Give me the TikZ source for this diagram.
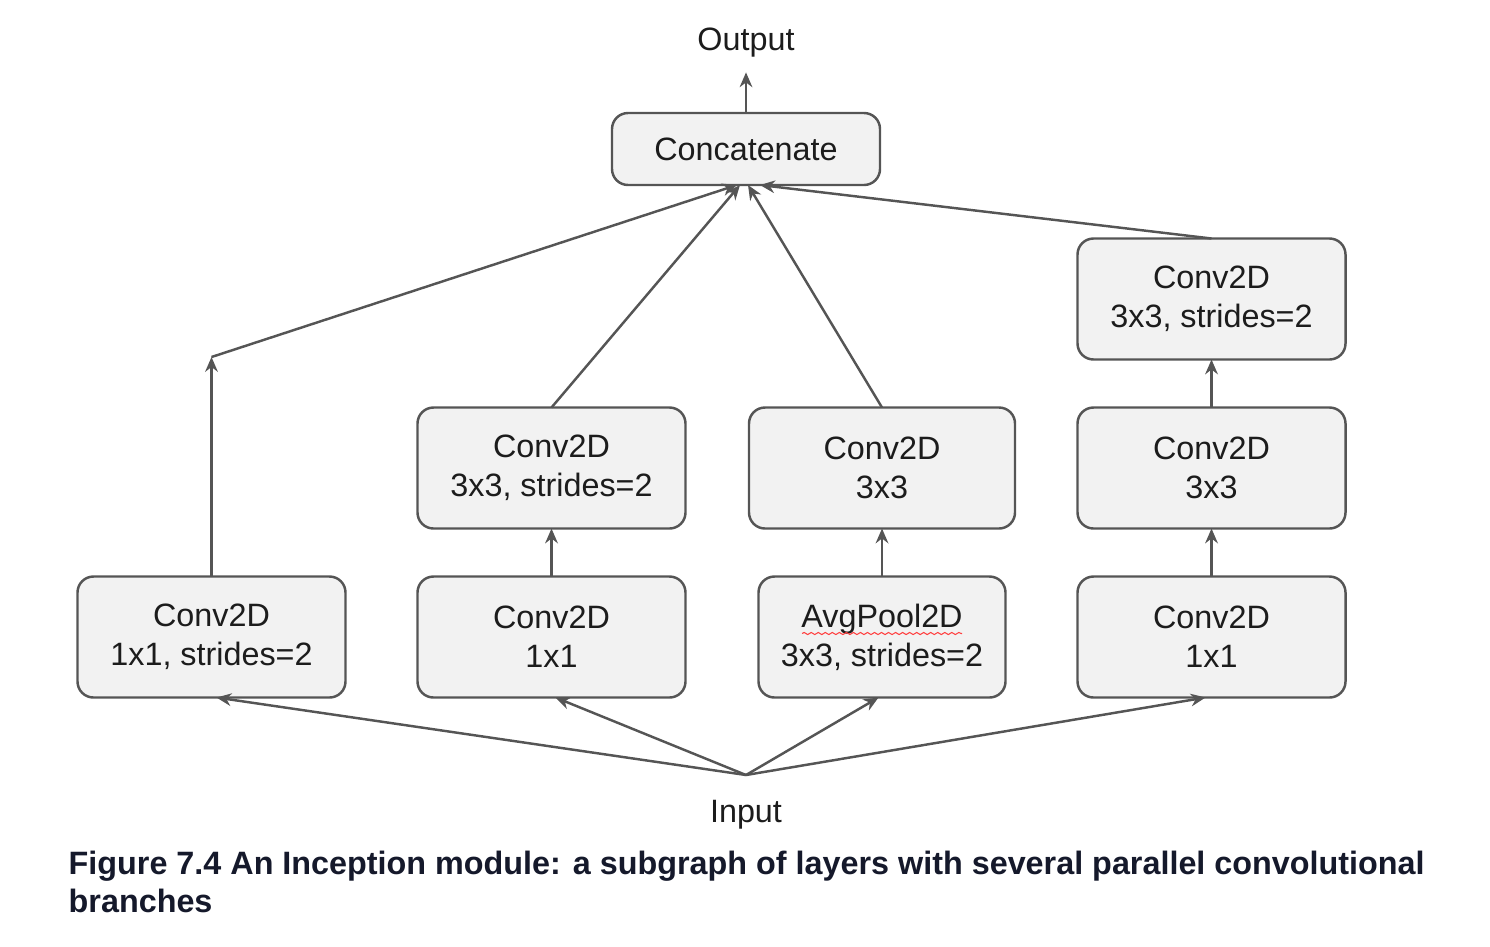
\documentclass[tikz,border=0pt]{standalone}
\usepackage{fontspec}
\setmainfont{Liberation Sans}
\usetikzlibrary{positioning,arrows.meta,decorations.pathmorphing}
\definecolor{boxfill}{HTML}{F2F2F2}
\definecolor{edge}{HTML}{555555}
\definecolor{ink}{HTML}{1C1C1C}
\definecolor{capink}{HTML}{15192B}

\begin{document}
\begin{tikzpicture}[
						layer/.style={rectangle, rounded corners=0.16cm, draw=edge, fill=boxfill, line width=0.7pt, minimum width=2.68cm, minimum height=1.21cm, align=center, inner sep=0pt, outer sep=0pt, text=ink, font=\fontsize{9.2}{11.1}\selectfont},
						tag/.style={rectangle, text=ink, inner sep=1pt, font=\fontsize{9.2}{11.1}\selectfont},
						link/.style={draw=edge, line width=0.7pt}
					]
					\useasboundingbox (0,0) rectangle (14.9,-9.46);
					\node[layer] (c1) at (2.115,-6.37) {Conv2D\\1x1, strides=2};
					\node[layer] (c2) [right=0.72cm of c1] {Conv2D\\1x1};
					\node[layer, minimum width=2.47cm] (pool) [right=0.73cm of c2] {AvgPool2D\\3x3, strides=2};
					\node[layer] (c4) [right=0.72cm of pool] {Conv2D\\1x1};
					\node[layer] (a) [above=0.48cm of c2] {Conv2D\\3x3, strides=2};
					\node[layer, minimum width=2.66cm] (b) [above=0.48cm of pool] {Conv2D\\3x3};
					\node[layer] (c) [above=0.48cm of c4] {Conv2D\\3x3};
					\node[layer] (d) [above=0.48cm of c] {Conv2D\\3x3, strides=2};
					\node[layer, minimum height=0.72cm] (concat) at (7.46,-1.49) {Concatenate};
					\node[tag] (output) at (7.46,-0.43) {Output};
					\node[tag] (input) at (7.46,-8.15) {Input};
					\coordinate (split) at (7.46,-7.75);
					\coordinate (bend) at (2.115,-3.57);
					\node[text=capink, anchor=north west, align=left, inner sep=0pt, font=\bfseries\fontsize{9.2}{10.8}\selectfont] (caption) at (0.68,-8.50) {Figure 7.4 An Inception module: a subgraph of layers with several parallel convolutional\\branches};
					\draw[red!75, line width=0.3pt, decorate, decoration={snake, amplitude=0.3pt, segment length=2pt}] ([xshift=-0.80cm,yshift=0.035cm]pool.center) -- ([xshift=0.80cm,yshift=0.035cm]pool.center);
					\begin{scope}[->, >={Stealth[length=4.2pt,width=3.6pt]}]
					\draw[link, shorten >=3pt] (concat.north) -- (output.south);
					\draw[link] (split) -- ([xshift=0.05cm]c1.south);
					\draw[link] (split) -- ([xshift=0.04cm]c2.south);
					\draw[link] (split) -- ([xshift=-0.035cm]pool.south);
					\draw[link] (split) -- ([xshift=-0.06cm]c4.south);
					\draw[link] (c2.north) -- (a.south);
					\draw[link] (pool.north) -- (b.south);
					\draw[link] (c4.north) -- (c.south);
					\draw[link] (c.north) -- (d.south);
					\draw[link] (c1.north) -- (bend);
					\draw[link] (bend) -- ([xshift=-0.09cm]concat.south);
					\draw[link] (a.north) -- ([xshift=-0.06cm]concat.south);
					\draw[link] (b.north) -- ([xshift=0.02cm]concat.south);
					\draw[link] (d.north) -- ([xshift=0.14cm]concat.south);
					\end{scope}
					\end{tikzpicture}
\end{document}
